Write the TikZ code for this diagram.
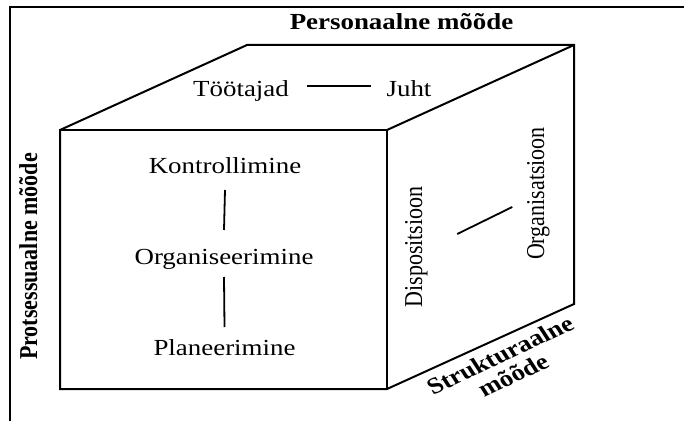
\documentclass[tikz,border=0pt]{standalone}
\usepackage{fontspec}
\setmainfont{Liberation Serif}
\begin{document}
\begin{tikzpicture}[x=1pt,y=1pt,
  edge/.style={line width=2pt, line join=miter},
  conn/.style={line width=1.8pt},
  lbl/.style={inner sep=0pt, anchor=base, font=\fontsize{23}{23}\selectfont},
  blbl/.style={inner sep=0pt, anchor=base, font=\fontsize{23}{23}\selectfont\bfseries},
  vlbl/.style={inner sep=0pt, rotate=90, anchor=base, font=\fontsize{22}{22}\selectfont},
  vblbl/.style={inner sep=0pt, rotate=90, anchor=base, font=\fontsize{22}{22}\selectfont\bfseries},
]
\useasboundingbox (0,0) rectangle (684,421);
% outer frame (partly cropped)
\draw[edge] (10,0) -- (10,414) -- (684,414);
% cube
\coordinate (A) at (60,291);
\coordinate (B) at (387,291);
\coordinate (C) at (387,32);
\coordinate (D) at (60,32);
\coordinate (E) at (247,376);
\coordinate (F) at (574,376);
\coordinate (G) at (574,117);
\draw[edge] (D) -- (A) -- (E) -- (F) -- (G) -- (C) -- cycle;
\draw[edge] (A) -- (B) -- (C);
\draw[edge] (B) -- (F);
% top face
\node[blbl] (pers) at (401.5,391) {\scalebox{1.17}[1]{Personaalne mõõde}};
\node[lbl] (toot) at (241,324) {\scalebox{1.17}[1]{Töötajad}};
\node[lbl] (juht) at (409,324) {\scalebox{1.17}[1]{Juht}};
\draw[conn] ([xshift=18pt,yshift=11pt]toot.base east) -- ([xshift=-15pt,yshift=11pt]juht.base west);
% front face
\node[lbl] (kontr) at (225,248) {\scalebox{1.17}[1]{Kontrollimine}};
\node[lbl] (org) at (224,157) {\scalebox{1.17}[1]{Organiseerimine}};
\node[lbl] (plan) at (224.5,66) {\scalebox{1.17}[1]{Planeerimine}};
\draw[conn] ([yshift=-17pt]kontr.base) -- ([yshift=34pt]org.base);
\draw[conn] ([yshift=-13pt]org.base) -- ([yshift=28pt]plan.base);
\node[vblbl] (proc) at (37,164.5) {\scalebox{1}[1.17]{Protsessuaalne mõõde}};
% right face
\node[vlbl] (disp) at (422,174) {\scalebox{1}[1.17]{Dispositsioon}};
\node[vlbl] (orga) at (544,227.5) {\scalebox{1}[1.17]{Organisatsioon}};
\draw[conn] ([shift={(41pt,13pt)}]disp.center) -- ([shift={(-26pt,-13.5pt)}]orga.center);
% structural dimension label
\begin{scope}[shift={(506.5,56)}, xscale=1.17]
  \node[inner sep=0pt, rotate=29, transform shape, align=center,
        font=\fontsize{23}{23}\selectfont\bfseries] (struk) at (0,0) {Strukturaalne\\mõõde};
\end{scope}
\end{tikzpicture}
\end{document}
